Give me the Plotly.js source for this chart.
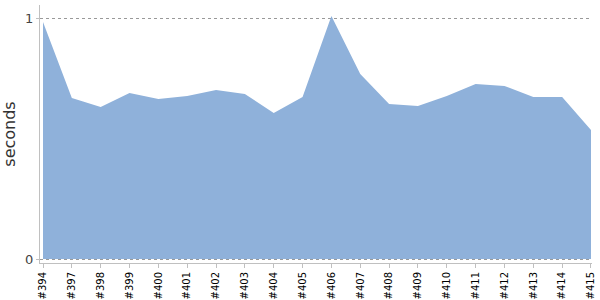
<!DOCTYPE html>
<html>
<head>
<meta charset="utf-8">
<script src="https://cdn.plot.ly/plotly-3.0.1.min.js"></script>
<style>html,body{margin:0;padding:0;background:#fff}#chart{width:600px;height:300px}</style>
</head>
<body>
<div id="chart"></div>
<script>
const builds = ["#394","#397","#398","#399","#400","#401","#402","#403","#404","#405","#406","#407","#408","#409","#410","#411","#412","#413","#414","#415"];
const seconds = [0.983,0.668,0.631,0.689,0.664,0.676,0.701,0.685,0.606,0.672,1.008,0.768,0.643,0.635,0.676,0.726,0.718,0.672,0.672,0.535];
const yTickVals = [0, 1];
const yTickText = ["0", "1"];

const trace = {
  x: builds, y: seconds, type: "scatter", mode: "lines",
  fill: "tozeroy", fillcolor: "#8fb1da",
  line: {width: 0, color: "#8fb1da"},
  hoverinfo: "x+y"
};
const layout = {
  width: 600, height: 300,
  margin: {l: 40, r: 8, t: 5, b: 37},
  paper_bgcolor: "#fff", plot_bgcolor: "#fff",
  showlegend: false,
  font: {family: "DejaVu Sans, sans-serif"},
  xaxis: {
    type: "category", range: [-0.104, 19.035],
    showgrid: false, zeroline: false,
    showline: true, linecolor: "#c0c0c0", linewidth: 1,
    ticks: "outside", ticklen: 4, tickcolor: "#c0c0c0",
    tickangle: -90, tickfont: {size: 10, color: "#000"}
  },
  yaxis: {
    range: [-0.0166, 1.054],
    tickvals: yTickVals, ticktext: yTickText,
    showgrid: true, gridcolor: "#999", griddash: "dot", gridwidth: 1,
    zeroline: false,
    showline: true, linecolor: "#c0c0c0", linewidth: 1,
    ticks: "outside", ticklen: 3, tickcolor: "#c0c0c0",
    tickfont: {size: 13, color: "#444"},
    automargin: true,
    title: {text: "seconds", font: {size: 16, color: "#333"}, standoff: 6}
  }
};
Plotly.newPlot("chart", [trace], layout, {displayModeBar: false, staticPlot: true});
</script>
</body>
</html>
